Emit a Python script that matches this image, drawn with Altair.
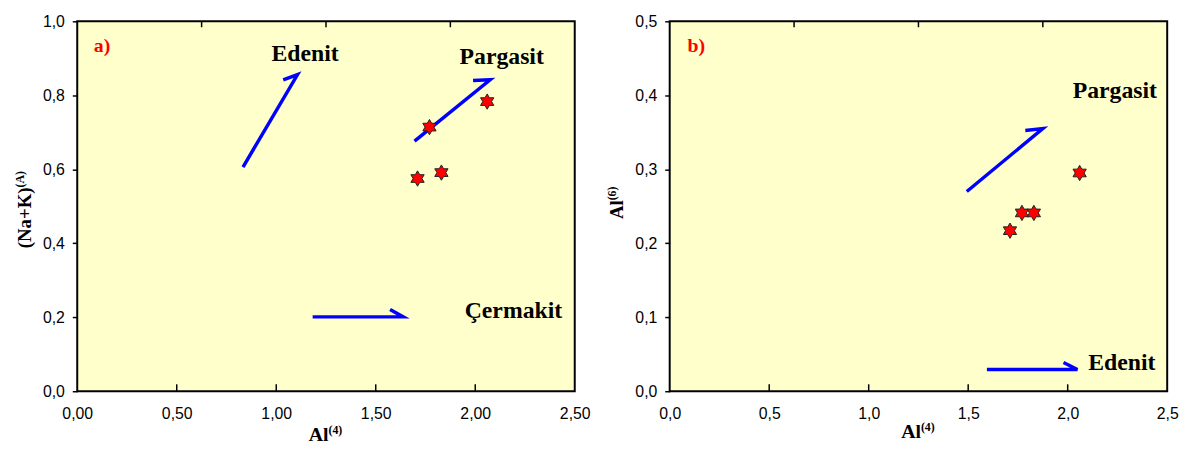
import math
import altair as alt
import pandas as pd

# ---- data ----
al4 = [1.71, 1.77, 1.83, 2.06]
nak_a = [0.575, 0.714, 0.591, 0.783]
al6 = [0.217, 0.241, 0.241, 0.295]

# arrows: start -> tip -> hook end
arrows_a = {
    "Edenit": ([0.833, 1.107, 1.035], [0.606, 0.856, 0.842]),
    "Pargasit": ([1.695, 2.075, 1.989], [0.676, 0.842, 0.840]),
    "Cermakit": ([1.183, 1.638, 1.572], [0.201, 0.201, 0.221]),
}
arrows_b = {
    "Pargasit": ([1.493, 1.875, 1.787], [0.270, 0.355, 0.3525]),
    "Edenit": ([1.594, 2.049, 1.979], [0.0294, 0.0294, 0.0388]),
}

labels_a_text = ["Edenit", "Pargasit", "Çermakit"]
labels_a_x = [1.145, 2.133, 2.192]
labels_a_y = [0.894, 0.885, 0.199]

labels_b_text = ["Pargasit", "Edenit"]
labels_b_x = [2.237, 2.272]
labels_b_y = [0.396, 0.0285]

panel_a = ("a)", 0.083, 0.918)
panel_b = ("b)", 0.090, 0.459)

x_title = ("Al", "(4)")
y_title_a = ("(Na+K)", "(A)")
y_title_b = ("Al", "(6)")

x_ticks = [0, 0.5, 1.0, 1.5, 2.0, 2.5]
y_ticks_a = [0, 0.2, 0.4, 0.6, 0.8, 1.0]
y_ticks_b = [0, 0.1, 0.2, 0.3, 0.4, 0.5]
inner_bottom_ticks = [0.5, 1.0, 1.5, 2.0]
inner_top_ticks = [0.625, 1.25, 1.875]

W, H = 503, 374
SERIF = "Liberation Serif"

# hexagram marker path
pts = []
for k in range(12):
    ang = math.radians(-90 + 30 * k)
    r = 1.0 if k % 2 == 0 else 0.5774
    pts.append(f"{r*math.cos(ang):.4f},{r*math.sin(ang):.4f}")
STAR = "M" + " L".join(pts) + " Z"


def arrow_df(arrows):
    rows = []
    for name, (xs, ys) in arrows.items():
        for i, (x, y) in enumerate(zip(xs, ys)):
            rows.append({"arrow": name, "order": i, "x": x, "y": y})
    return pd.DataFrame(rows)


def title_text(txt, px, py, size, align, angle=0):
    kw = dict(font=SERIF, fontWeight="bold", fontSize=size, color="black",
              align=align, baseline="alphabetic")
    if angle:
        kw["angle"] = angle
    return alt.Chart(pd.DataFrame({"t": [txt]})).mark_text(**kw).encode(
        x=alt.value(px), y=alt.value(py), text="t:N")


def panel(xs, ys, arrows, ltext, lx, ly, letter, y_ticks, y_dom, x_fmt,
          y_title, y_anchor, x_base):
    xscale = alt.Scale(domain=[0, 2.5], nice=False, zero=False)
    yscale = alt.Scale(domain=y_dom, nice=False, zero=False)
    xaxis = alt.Axis(
        values=x_ticks, ticks=False, domain=False, grid=False,
        labelExpr=f"replace(format(datum.value, '{x_fmt}'), '.', ',')",
        labelPadding=15, labelFlush=False, labelOverlap=False, title=None,
    )
    yaxis = alt.Axis(
        values=y_ticks, ticks=True, tickSize=5, tickWidth=1.5, tickColor="black",
        domain=False, grid=False,
        labelExpr="replace(format(datum.value, '.1f'), '.', ',')",
        labelPadding=8, labelFlush=False, labelOverlap=False, title=None,
    )
    pdf = pd.DataFrame({"x": xs, "y": ys})
    base_pts = alt.Chart(pdf).mark_point(
        shape=STAR, filled=True, fill="#FF0000", stroke="#222222",
        strokeWidth=1, size=240, opacity=1,
    ).encode(
        x=alt.X("x:Q", scale=xscale, axis=xaxis),
        y=alt.Y("y:Q", scale=yscale, axis=yaxis),
    )
    lines = alt.Chart(arrow_df(arrows)).mark_line(
        color="#0000FF", strokeWidth=3.5, strokeCap="butt", strokeJoin="miter",
    ).encode(
        x=alt.X("x:Q", scale=xscale), y=alt.Y("y:Q", scale=yscale),
        detail="arrow:N", order="order:Q",
    )
    tdf = pd.DataFrame({"t": ltext, "x": lx, "y": ly})
    texts = alt.Chart(tdf).mark_text(
        font=SERIF, fontWeight="bold", fontSize=24,
        color="black", align="center", baseline="alphabetic",
    ).encode(x=alt.X("x:Q", scale=xscale), y=alt.Y("y:Q", scale=yscale), text="t:N")
    ldf = pd.DataFrame({"t": [letter[0]], "x": [letter[1]], "y": [letter[2]]})
    let = alt.Chart(ldf).mark_text(
        font=SERIF, fontWeight="bold", fontSize=20,
        color="#FF0000", align="left", baseline="alphabetic",
    ).encode(x=alt.X("x:Q", scale=xscale), y=alt.Y("y:Q", scale=yscale), text="t:N")
    bt = alt.Chart(pd.DataFrame({"x": inner_bottom_ticks})).mark_rule(
        color="black", strokeWidth=1.5,
    ).encode(x=alt.X("x:Q", scale=xscale), y=alt.value(H), y2=alt.value(H - 7))
    tt = alt.Chart(pd.DataFrame({"x": inner_top_ticks})).mark_rule(
        color="black", strokeWidth=1.5,
    ).encode(x=alt.X("x:Q", scale=xscale), y=alt.value(0), y2=alt.value(6))
    # axis titles with superscripts
    xt1 = title_text(x_title[0], W / 2 + 2.5, H + x_base, 20, "right")
    xt2 = title_text(x_title[1], W / 2 + 2.5, H + x_base - 7, 12, "left")
    yt1 = title_text(y_title[0], -47, y_anchor, 19, "right", angle=270)
    yt2 = title_text(y_title[1], -54, y_anchor, 12, "left", angle=270)
    return alt.layer(lines, bt, tt, base_pts, texts, let, xt1, xt2, yt1, yt2).properties(
        width=W, height=H)


left = panel(al4, nak_a, arrows_a, labels_a_text, labels_a_x, labels_a_y, panel_a,
             y_ticks_a, [0, 1.0], ".2f", y_title_a, H / 2 - 19, 50.5)
right = panel(al4, al6, arrows_b, labels_b_text, labels_b_x, labels_b_y, panel_b,
              y_ticks_b, [0, 0.5], ".1f", y_title_b, H / 2 - 6, 47.5)

chart = alt.hconcat(left, right, spacing=14).configure(
    background="white",
    padding={"left": 5, "top": 2, "right": 5, "bottom": 5},
).configure_view(
    fill="#FFFFCC", stroke="black", strokeWidth=2,
).configure_axis(
    labelFont="Liberation Sans", labelFontSize=16, labelColor="black",
)

chart.save("out.html", embed_options={"renderer": "svg", "actions": False})
